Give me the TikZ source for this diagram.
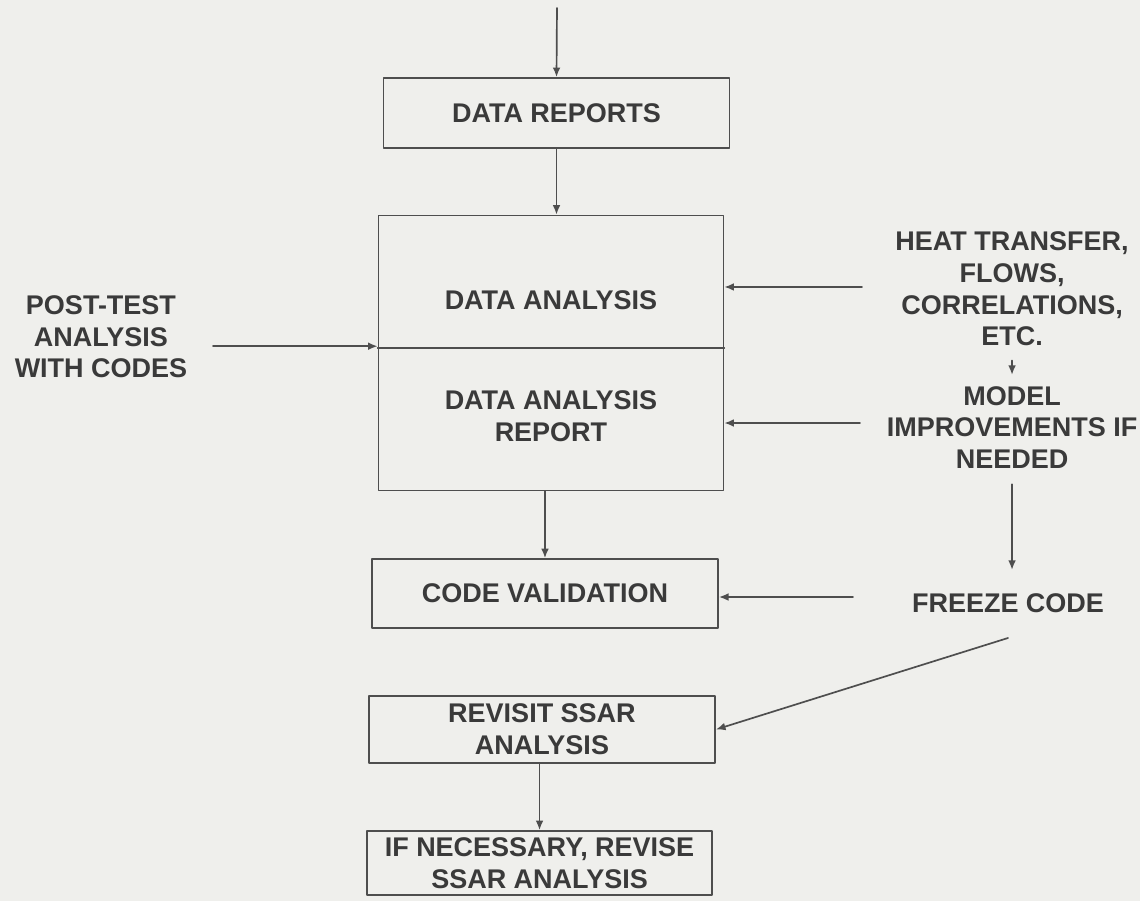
\documentclass[tikz,border=0pt]{standalone}
\usepackage{fontspec}
\setmainfont{Liberation Sans}
\usepackage{xcolor}
\usetikzlibrary{arrows.meta,calc,positioning}
\definecolor{scanpaper}{RGB}{239,239,236}
\definecolor{inkgray}{RGB}{78,78,78}
\definecolor{textgray}{RGB}{58,58,58}
\tikzset{
  stagebox/.style={draw=inkgray, line width=.8pt, minimum width=5.77cm,
    align=center, inner sep=2pt},
  sidetext/.style={align=center, inner sep=3pt},
  flow/.style={draw=inkgray, line width=.8pt,
    -{Latex[length=1.6mm,width=1.3mm]}},
}
\begin{document}
\begin{tikzpicture}[line cap=round, line join=round,
    font=\bfseries\fontsize{12.8}{15}\selectfont, text=textgray]
  \fill[scanpaper] (0,0) rectangle (19,-15.017);
  \useasboundingbox (0,0) rectangle (19,-15.017);

  % Main column of stages.
  \node[stagebox, minimum height=1.167cm] (reports) at (9.275,-1.883)
    {DATA REPORTS};
  \node[stagebox, minimum width=5.75cm, minimum height=4.583cm] (analysis)
    at (9.183,-5.883) {};
  \draw[inkgray, line width=.8pt] (analysis.west |- 0,-5.8) -- (analysis.east |- 0,-5.8);
  \node[sidetext] (antitle) at (9.183,-5.0) {DATA ANALYSIS};
  \node[sidetext] (anreport) at (9.183,-6.933) {DATA ANALYSIS\\REPORT};
  \node[stagebox, minimum height=1.15cm] (validation) at (9.083,-9.892)
    {CODE VALIDATION};
  \node[stagebox, minimum height=1.117cm] (revisit) at (9.033,-12.158)
    {REVISIT SSAR\\ANALYSIS};
  \node[stagebox, minimum width=5.75cm, minimum height=1.067cm] (revise)
    at (8.992,-14.383) {IF NECESSARY, REVISE\\SSAR ANALYSIS};

  % Side inputs.
  \node[sidetext] (posttest) at (1.683,-5.617)
    {POST-TEST\\ANALYSIS\\WITH CODES};
  \node[sidetext] (heat) at (16.867,-4.817)
    {HEAT TRANSFER,\\FLOWS,\\CORRELATIONS,\\ETC.};
  \node[sidetext] (model) at (16.867,-7.125)
    {MODEL\\IMPROVEMENTS IF\\NEEDED};
  \node[sidetext] (freeze) at (16.8,-10.05) {FREEZE CODE};

  \coordinate (feed) at (9.283,-0.133);
  \coordinate (postin) at (3.55,-5.77);
  \coordinate (heatin) at (14.367,-4.783);
  \coordinate (modelin) at (14.333,-7.05);
  \coordinate (freezein) at (14.217,-9.95);
  \coordinate (freezeout) at (16.8,-10.633);

  \draw[flow] (feed) -- (reports.north);
  \draw[flow] (reports.south) -- (reports.south |- analysis.north);
  \draw[flow] (validation.north |- analysis.south) -- (validation.north);
  \draw[flow] (revise.north |- revisit.south) -- (revise.north);

  \draw[flow] (postin) -- (postin -| analysis.west);
  \draw[flow] (heatin) -- (heatin -| analysis.east);
  \draw[flow] (modelin) -- (modelin -| analysis.east);
  \draw[flow] (freezein) -- (freezein -| validation.east);
  \draw[flow] (freezeout) -- (revisit.east);

  \draw[flow, shorten <=.13cm, shorten >=.08cm] (heat.south) -- (model.north);
  \draw[flow, shorten <=.15cm, shorten >=.28cm] (model.south) -- (model.south |- freeze.north);
\end{tikzpicture}
\end{document}
